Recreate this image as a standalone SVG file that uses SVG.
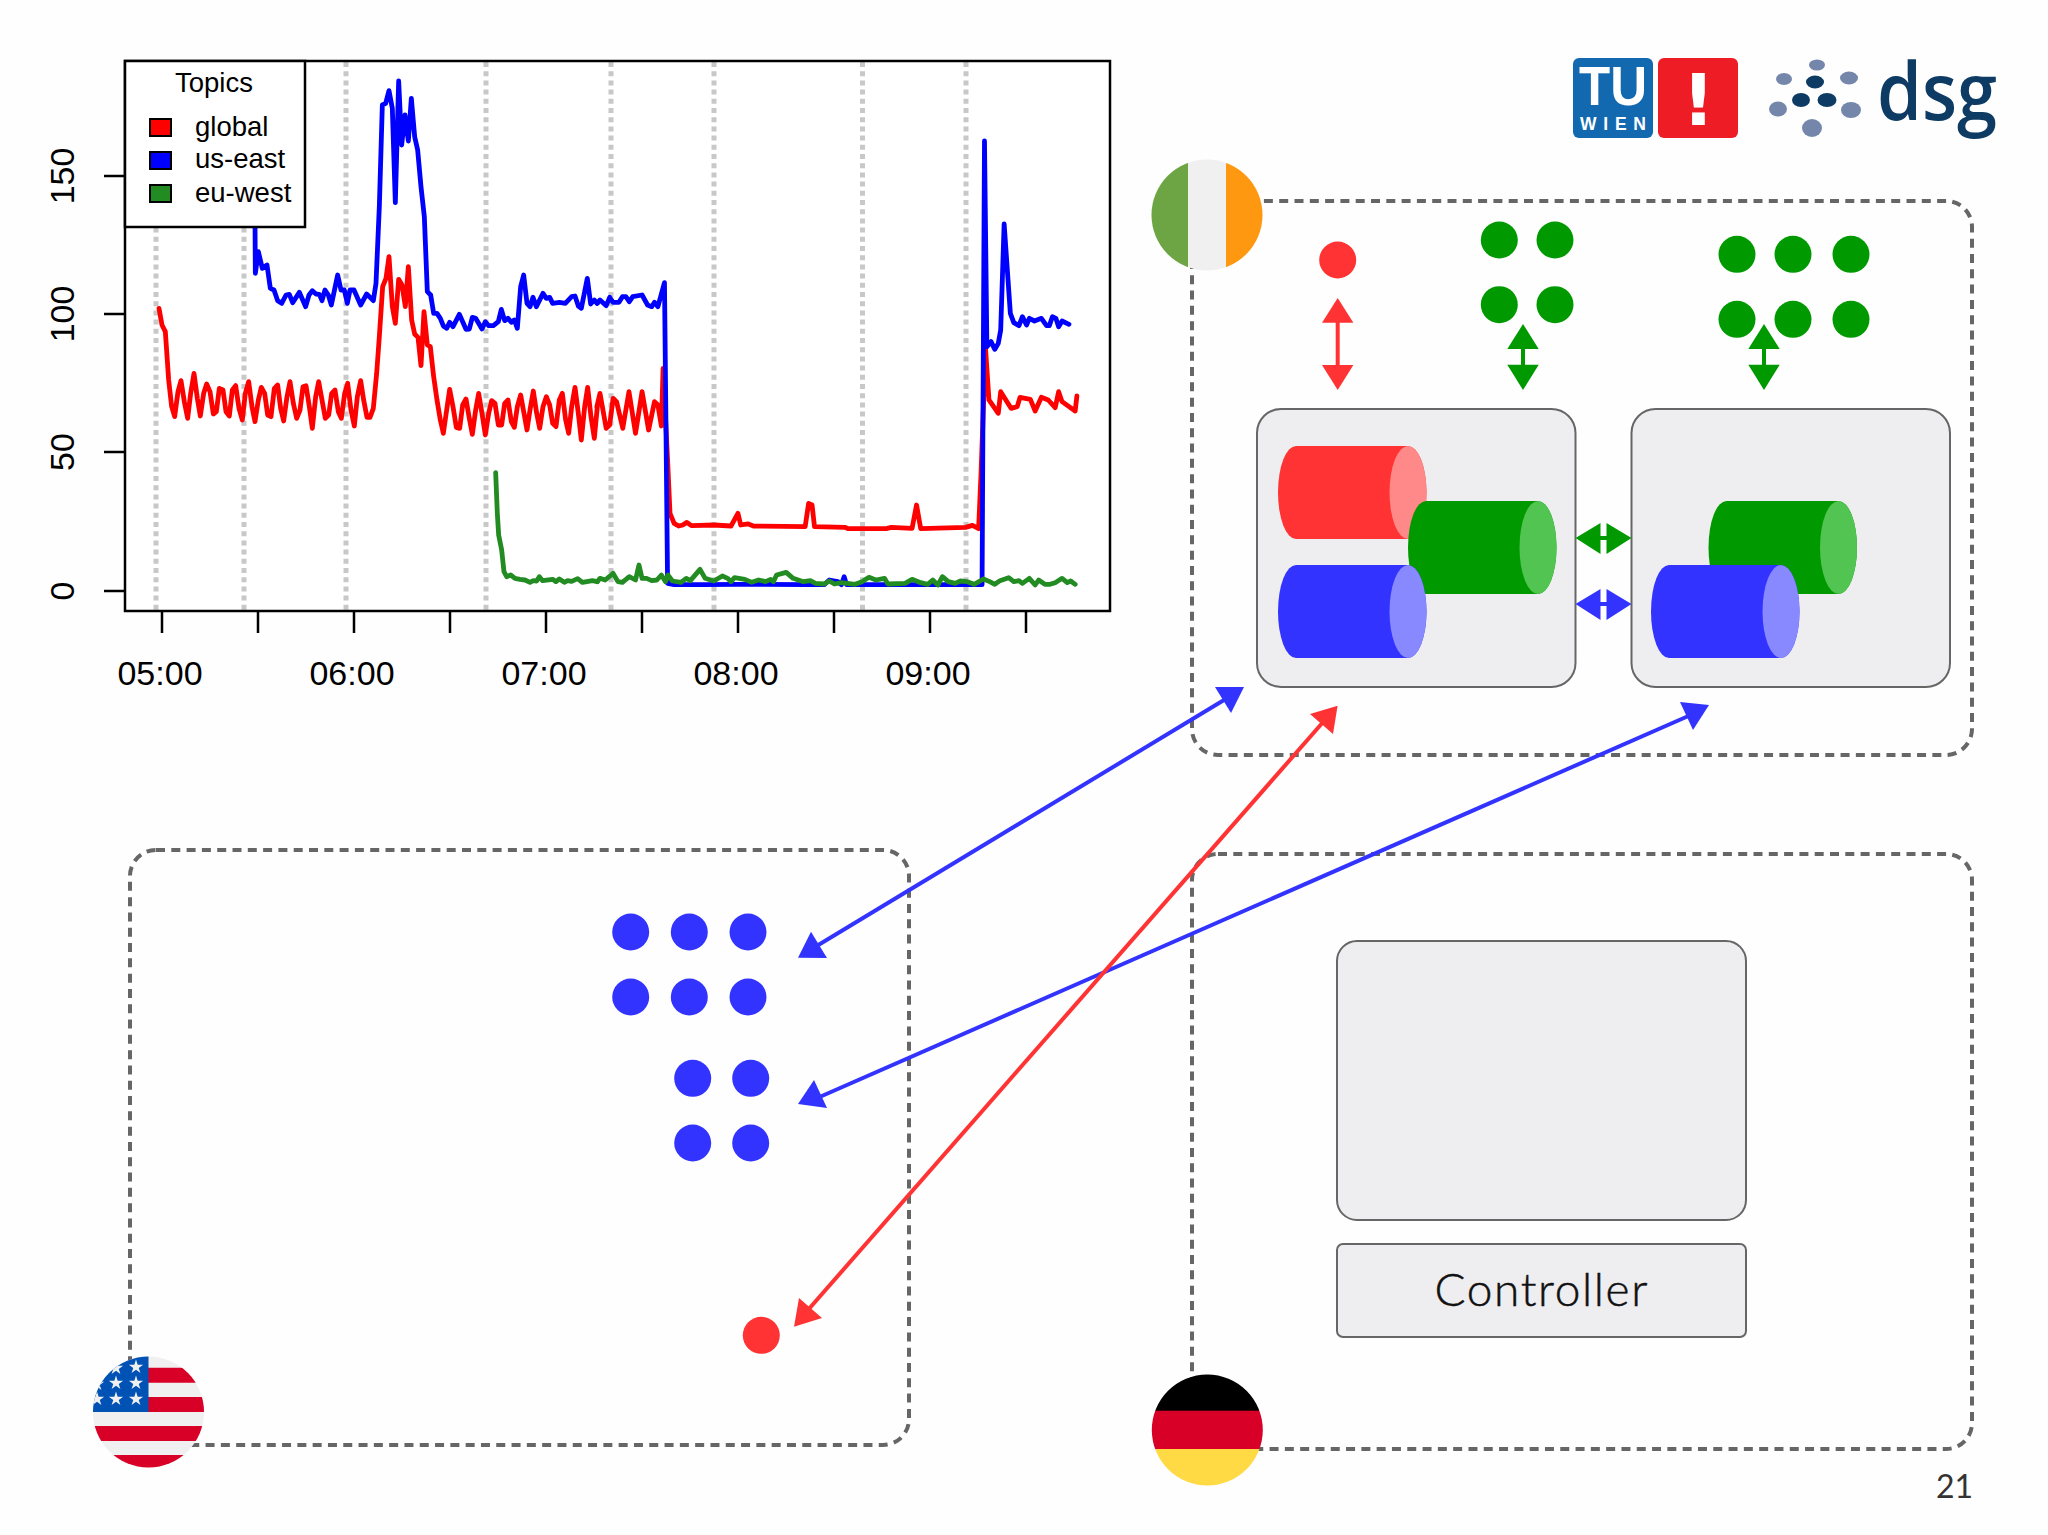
<svg xmlns="http://www.w3.org/2000/svg" width="2048" height="1535" viewBox="0 0 2048 1535">
<style>
text{font-family:"Liberation Sans",Arial,sans-serif;fill:#000}
.ax{font-size:34px}
.lg{font-size:27.500px}
.axis{stroke:#000;stroke-width:2.5;fill:none}
.vl{stroke:#c8c8c8;stroke-width:5;stroke-dasharray:5 4.2;fill:none}
.s{fill:none;stroke-width:4.800;stroke-linejoin:round;stroke-linecap:round;vector-effect:non-scaling-stroke}
.region{fill:none;stroke:#666;stroke-width:4;stroke-dasharray:9 6.3}
.broker{fill:#eeeef0;stroke:#666;stroke-width:2}
.r{fill:#f33}.rc{fill:#f88}.g{fill:#090}.gc{fill:#52c452}.b{fill:#33f}.bc{fill:#88f}
.gl{fill:#7487ab}.dk{fill:#0d3b63}
.cr{fill:none;stroke:#f33;stroke-width:4}.cg{fill:none;stroke:#090;stroke-width:4}.cb{fill:none;stroke:#33f;stroke-width:4}
</style>
<defs>
<clipPath id="cIE"><circle cx="1207" cy="215" r="55.5"/></clipPath>
<clipPath id="cUS"><circle cx="148.500" cy="1412" r="55.500"/></clipPath>
<clipPath id="cDE"><circle cx="1207.300" cy="1430" r="55.500"/></clipPath>
<path id="star" fill="#f0f0f0" d="M0-7.500 1.680-2.320H7.130L2.730.890 4.410 6.070 0 2.870-4.410 6.070-2.730.890-7.130-2.320H-1.680Z"/>
<path id="cyl" d="M18 0H130A18.500 46.500 0 0 1 130 93H18A18 46.500 0 0 1 18 0Z"/>
<ellipse id="cap" cx="130" cy="46.500" rx="18.500" ry="46.500"/>
</defs>
<rect width="2048" height="1535" fill="#fefefe"/>

<g id="chart">
<rect x="125" y="61" width="985" height="550" fill="#fff" stroke="none"/>
<g id="gridlines">
<path class="vl" d="M156 62V610M244 62V610M346 62V610M486 62V610M611 62V610M714 62V610M862.500 62V610M966 62V610"/>
</g>
<g id="series">
<g transform="translate(100 40) scale(.33333)">
<polyline class="s" stroke="#f00" points="177,805 186,855 196,875 206,1020 215,1100 224,1130 234,1055 243,1022 253,1085 263,1135 272,1060 282,1000 292,1075 301,1128 311,1060 320,1032 330,1055 340,1122 349,1115 358,1045 369,1050 378,1115 388,1128 397,1050 407,1037 417,1105 427,1140 436,1060 446,1025 456,1100 465,1145 475,1080 484,1042 494,1060 503,1125 513,1130 523,1045 533,1035 542,1105 551,1143 561,1070 570,1025 580,1090 590,1135 600,1110 609,1040 618,1037 628,1100 637,1165 647,1070 656,1025 666,1080 676,1135 686,1125 695,1060 705,1050 715,1115 724,1135 734,1060 743,1030 753,1110 763,1158 772,1070 782,1022 791,1080 801,1132 810,1132 820,1105 830,1000 838,890 848,740 858,715 867,650 877,800 886,850 896,718 906,735 916,800 925,680 935,840 944,882 954,892 963,977 972,815 982,915 991,920 1001,1010 1011,1080 1021,1140 1030,1180 1040,1110 1049,1048 1059,1100 1069,1162 1079,1165 1088,1095 1098,1077 1107,1130 1117,1183 1127,1110 1136,1060 1146,1120 1156,1185 1166,1120 1175,1082 1185,1090 1195,1155 1205,1155 1214,1090 1224,1080 1234,1145 1243,1162 1252,1100 1262,1065 1272,1120 1281,1170 1290,1110 1300,1053 1310,1120 1319,1165 1329,1100 1339,1070 1349,1095 1358,1150 1368,1160 1378,1080 1387,1060 1397,1140 1406,1180 1415,1100 1425,1042 1435,1120 1444,1200 1454,1100 1463,1042 1473,1130 1483,1195 1492,1100"/>
</g>
<g transform="translate(600 40) scale(.34483 .33333)">
<polyline class="s" stroke="#f00" points="-9,1100 0,1060 18,1165 28,1155 38,1075 48,1085 66,1165 84,1055 103,1180 122,1055 141,1170 158,1085 168,1095 178,1158 183,985 196,1260 203,1420 215,1450 228,1458 240,1455 252,1447 265,1457 330,1455 380,1458 400,1420 408,1455 430,1452 445,1458 595,1460 605,1390 615,1395 622,1460 710,1462 720,1466 830,1466 845,1462 905,1465 918,1395 930,1466 1060,1462 1080,1456 1098,1466 1105,1300 1118,925 1128,1080 1155,1120 1162,1055 1192,1105 1210,1100 1218,1072 1248,1078 1262,1113 1280,1072 1300,1080 1320,1103 1330,1055 1340,1085 1378,1113 1383,1068"/>
</g>
<g transform="translate(100 40) scale(.33333)">
<polyline class="s" stroke="#00f" points="465,540 466,700 475,635 487,685 501,675 511,745 522,750 533,782 545,790 558,765 568,763 578,788 598,757 617,800 627,765 637,752 648,762 658,763 666,782 675,750 685,765 694,795 713,705 723,750 733,750 742,790 750,750 762,750 782,795 800,762 820,782 828,730 838,500 847,195 857,190 867,152 877,205 886,488 896,123 905,315 915,225 925,303 934,175 944,290 953,330 963,440 973,530 982,755 992,765 1001,820 1011,820 1021,835 1030,858 1040,865 1049,847 1059,860 1078,823 1098,868 1108,867 1117,832 1127,835 1146,867 1156,845 1166,857 1180,857 1195,845 1204,808 1214,842 1224,835 1234,847 1243,840 1252,865 1262,740 1271,705 1281,790 1290,800 1299,772 1309,800 1329,760 1339,775 1349,772 1358,790 1378,787 1396,790 1415,770 1425,768 1435,798 1444,805 1462,715 1472,792 1483,780 1492,790"/>
</g>
<g transform="translate(600 40) scale(.34483 .33333)">
<polyline class="s" stroke="#00f" points="-9,790 0,780 18,797 28,772 38,787 55,787 65,770 75,770 85,785 95,770 122,765 138,795 150,800 158,787 168,800 187,728 196,1630 215,1634 300,1634 400,1633 600,1634 650,1634 665,1620 690,1625 700,1634 708,1610 715,1634 1108,1634 1115,303 1122,920 1134,905 1145,928 1155,910 1162,870 1172,552 1190,820 1200,848 1215,857 1225,830 1237,855 1245,835 1260,843 1280,835 1295,857 1303,857 1312,830 1322,835 1330,860 1340,843 1360,853"/>
</g>
<g transform="translate(100 400) scale(.33333)">
<polyline class="s" stroke="#228b22" points="1187,218 1192,340 1196,405 1205,450 1212,515 1220,530 1232,525 1245,535 1260,538 1275,540 1290,547 1300,542 1310,543 1318,530 1328,542 1358,538 1368,545 1378,537 1393,547 1403,542 1415,544 1433,536 1447,547 1465,544 1477,542 1492,545"/>
</g>
<g transform="translate(600 400) scale(.34483 .33333)">
<polyline class="s" stroke="#228b22" points="-8,545 0,535 15,540 38,520 52,545 65,547 85,530 103,540 113,495 122,535 135,535 150,542 165,540 178,525 190,545 197,525 210,543 235,547 250,535 262,542 290,508 305,535 330,543 355,528 370,535 380,545 390,533 420,538 440,547 460,540 480,545 495,538 503,545 512,525 540,517 560,535 590,545 610,542 625,550 650,552 665,543 680,552 700,548 740,553 760,545 780,532 800,540 825,535 835,552 885,550 905,538 930,548 950,553 965,540 980,555 993,530 1010,545 1030,550 1045,543 1065,545 1085,553 1112,537 1130,545 1145,553 1160,542 1185,533 1200,545 1215,542 1225,550 1245,535 1262,555 1272,540 1290,553 1305,553 1320,548 1340,535 1355,548 1365,543 1378,553"/>
</g>
</g>
<rect class="axis" x="125" y="61" width="985" height="550"/>
<path class="axis" d="M104 176H125M104 314H125M104 452H125M104 591H125"/>
<path class="axis" d="M162 611V633M258 611V633M354 611V633M450 611V633M546 611V633M642 611V633M738 611V633M834 611V633M930 611V633M1026 611V633"/>
<g class="ax" text-anchor="middle">
<text x="160" y="685">05:00</text>
<text x="352" y="685">06:00</text>
<text x="544" y="685">07:00</text>
<text x="736" y="685">08:00</text>
<text x="928" y="685">09:00</text>
<text transform="translate(74 176) rotate(-90)">150</text>
<text transform="translate(74 314) rotate(-90)">100</text>
<text transform="translate(74 452) rotate(-90)">50</text>
<text transform="translate(74 591) rotate(-90)">0</text>
</g>
<g id="legend">
<rect x="125" y="61" width="180" height="166" fill="#fff" stroke="#000" stroke-width="2.500"/>
<text class="lg" x="214" y="92" text-anchor="middle">Topics</text>
<rect x="150" y="119" width="21" height="17" fill="#f00" stroke="#000" stroke-width="2"/>
<rect x="150" y="152" width="21" height="17" fill="#00f" stroke="#000" stroke-width="2"/>
<rect x="150" y="185" width="21" height="17" fill="#228b22" stroke="#000" stroke-width="2"/>
<text class="lg" x="195" y="136">global</text>
<text class="lg" x="195" y="168">us-east</text>
<text class="lg" x="195" y="202">eu-west</text>
</g>
</g>

<g id="logo-tu">
<rect x="1573" y="58" width="80" height="80" rx="6" fill="#1269b0"/>
<rect x="1658" y="58" width="80" height="80" rx="6" fill="#ee1c25"/>
<text x="1579" y="105" font-size="55" font-weight="700" textLength="68" lengthAdjust="spacingAndGlyphs" style="fill:#fff">TU</text>
<text x="1580" y="130" font-size="17.500" font-weight="700" textLength="66" style="fill:#fff">WIEN</text>
<text x="1698.500" y="124.600" font-size="72" font-weight="700" text-anchor="middle" style="fill:#fff;font-family:'DejaVu Sans',sans-serif">!</text>
</g>
<g id="logo-dsg">
<ellipse class="gl" cx="1817" cy="65" rx="8" ry="5.500"/>
<ellipse class="gl" cx="1784" cy="79" rx="8" ry="6"/>
<ellipse class="gl" cx="1849" cy="78" rx="9" ry="6.500"/>
<ellipse class="gl" cx="1778" cy="109" rx="9" ry="7.500"/>
<ellipse class="gl" cx="1851" cy="110" rx="10" ry="8"/>
<ellipse class="gl" cx="1812" cy="128" rx="10" ry="9"/>
<ellipse class="dk" cx="1815" cy="82" rx="9" ry="6.500"/>
<ellipse class="dk" cx="1801" cy="100" rx="9" ry="7"/>
<ellipse class="dk" cx="1827" cy="100" rx="9.500" ry="7"/>
<text x="1877" y="120" font-size="80" font-weight="600" textLength="120" lengthAdjust="spacingAndGlyphs" style="fill:#0d3b63;font-family:'Open Sans',sans-serif">dsg</text>
</g>

<g id="region-ireland"><rect class="region" x="1192" y="201" width="780" height="554" rx="26"/></g>
<g id="region-us"><rect class="region" x="130" y="850" width="779" height="595" rx="26"/></g>
<g id="region-germany"><rect class="region" x="1192" y="854" width="780" height="595" rx="26"/></g>

<g id="flag-ireland" clip-path="url(#cIE)">
<rect x="1150" y="158" width="38" height="114" fill="#6da544"/>
<rect x="1188" y="158" width="38" height="114" fill="#f0f0f0"/>
<rect x="1226" y="158" width="38" height="114" fill="#ff9811"/>
</g>
<g id="flag-us" clip-path="url(#cUS)">
<rect x="92" y="1356" width="113" height="113" fill="#f0f0f0"/>
<path fill="#d80027" d="M148 1367.700h58v15h-58zM148 1397h58v15h-58zM92 1426h114v15H92zM92 1455h114v15H92z"/>
<rect x="92" y="1356" width="56.500" height="56" fill="#0052b4"/>
<use href="#star" x="136" y="1367"/><use href="#star" x="116" y="1368"/>
<use href="#star" x="116" y="1383"/><use href="#star" x="136" y="1383"/>
<use href="#star" x="97" y="1399"/><use href="#star" x="116" y="1399"/><use href="#star" x="136" y="1399"/>
<use href="#star" x="97" y="1384"/>
</g>
<g id="flag-germany" clip-path="url(#cDE)">
<rect x="1150" y="1374" width="115" height="37" fill="#000"/>
<rect x="1150" y="1410.700" width="115" height="38.500" fill="#d80027"/>
<rect x="1150" y="1449" width="115" height="38" fill="#ffda44"/>
</g>

<g id="broker-1">
<rect class="broker" x="1257" y="409" width="318.500" height="278" rx="24"/>
<g transform="translate(1278 446)"><use href="#cyl" class="r"/><use href="#cap" class="rc"/></g>
<g transform="translate(1408 501)"><use href="#cyl" class="g"/><use href="#cap" class="gc"/></g>
<g transform="translate(1278 565)"><use href="#cyl" class="b"/><use href="#cap" class="bc"/></g>
</g>
<g id="broker-2">
<rect class="broker" x="1631.500" y="409" width="318.500" height="278" rx="24"/>
<g transform="translate(1708.500 501)"><use href="#cyl" class="g"/><use href="#cap" class="gc"/></g>
<g transform="translate(1651 565)"><use href="#cyl" class="b"/><use href="#cap" class="bc"/></g>
</g>
<g id="controller-box"><rect class="broker" x="1337" y="941" width="409" height="279" rx="20"/></g>
<g id="controller">
<rect class="broker" x="1337" y="1244" width="409" height="93" rx="6"/>
<text x="1541" y="1306" text-anchor="middle" font-size="46" font-weight="300" textLength="213" stroke="#111" stroke-width=".5" style="fill:#111;font-family:Lato,sans-serif">Controller</text>
</g>

<g id="clients-red-ie"><circle class="r" cx="1337.700" cy="260" r="18.500"/></g>
<g id="clients-green-1" class="g">
<circle cx="1499.300" cy="240" r="18.500"/><circle cx="1555" cy="240" r="18.500"/>
<circle cx="1499.300" cy="304.700" r="18.500"/><circle cx="1555" cy="304.700" r="18.500"/>
</g>
<g id="clients-green-2" class="g">
<circle cx="1737" cy="254.300" r="18.500"/><circle cx="1793" cy="254.300" r="18.500"/><circle cx="1851" cy="254.300" r="18.500"/>
<circle cx="1737" cy="319.300" r="18.500"/><circle cx="1793" cy="319.300" r="18.500"/><circle cx="1851" cy="319.300" r="18.500"/>
</g>
<g id="clients-blue-1" class="b">
<circle cx="630.700" cy="932" r="18.500"/><circle cx="689.300" cy="932" r="18.500"/><circle cx="748" cy="932" r="18.500"/>
<circle cx="630.700" cy="997" r="18.500"/><circle cx="689.300" cy="997" r="18.500"/><circle cx="748" cy="997" r="18.500"/>
</g>
<g id="clients-blue-2" class="b">
<circle cx="692.700" cy="1078.300" r="18.500"/><circle cx="750.700" cy="1078.300" r="18.500"/>
<circle cx="692.700" cy="1143" r="18.500"/><circle cx="750.700" cy="1143" r="18.500"/>
</g>
<g id="client-red-us"><circle class="r" cx="761.300" cy="1335.300" r="18.500"/></g>

<g id="connectors">
<path class="cr" d="M1337.700 320V368"/>
<polygon class="r" points="1337.700,298 1353.400,322.700 1322,322.700"/>
<polygon class="r" points="1337.700,390 1353.400,365 1322,365"/>
<path class="cg" d="M1523 347V367"/>
<polygon class="g" points="1523,324 1538.700,349 1507.300,349"/>
<polygon class="g" points="1523,390 1538.700,364.700 1507.300,364.700"/>
<path class="cg" d="M1764 347V367"/>
<polygon class="g" points="1764,324 1779.700,349 1748.300,349"/>
<polygon class="g" points="1764,390 1779.700,364.700 1748.300,364.700"/>
<path class="cg" d="M1599 538H1608"/>
<polygon class="g" points="1575.500,538 1600.500,523 1600.500,554"/>
<polygon class="g" points="1631.500,538 1606.500,523 1606.500,554"/>
<path class="cb" d="M1599 604H1608"/>
<polygon class="b" points="1575.500,604 1600.500,589 1600.500,620"/>
<polygon class="b" points="1631.500,604 1606.500,589 1606.500,620"/>
<path class="cb" d="M815 947 1229 697"/>
<polygon class="b" points="798,957.700 811,931.700 827,958"/>
<polygon class="b" points="1244,687 1215,687 1231,713"/>
<path class="cb" d="M815 1099 1693 714"/>
<polygon class="b" points="798,1104 814,1080 827,1108"/>
<polygon class="b" points="1709,705 1680,702 1693,730"/>
<path class="cr" d="M808 1310 1324 721"/>
<polygon class="r" points="794,1326.700 799,1298 822,1318"/>
<polygon class="r" points="1337.600,705.700 1310,714 1333,734"/>
</g>

<text x="1973" y="1498" text-anchor="end" font-size="32" style="fill:#333;font-family:Lato,sans-serif">21</text>
</svg>
